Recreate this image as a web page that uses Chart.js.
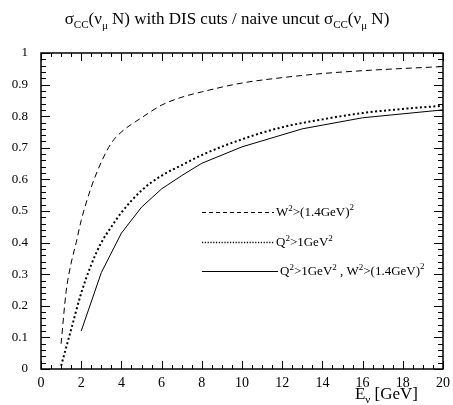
<!DOCTYPE html>
<html>
<head>
<meta charset="utf-8">
<script src="https://cdn.jsdelivr.net/npm/chart.js@4"></script>
<style>
  html, body { margin: 0; padding: 0; background: #fff; }
  #wrap { width: 453px; height: 405px; }
</style>
</head>
<body>
<div id="wrap"><canvas id="chart" width="453" height="405"></canvas></div>
<script>
// values
var wX = [1, 1.25, 1.5, 1.75, 2, 2.5, 3, 3.5, 4, 5, 6, 7, 8, 10, 12, 14, 16, 18, 20];
var wY = [0.08, 0.245, 0.335, 0.40, 0.47, 0.575, 0.655, 0.715, 0.75, 0.795, 0.835, 0.86, 0.877, 0.905, 0.922, 0.935, 0.944, 0.951, 0.957];

var qX = [1, 1.5, 2, 2.5, 3, 3.5, 4, 5, 6, 7, 8, 10, 12, 14, 16, 18, 20];
var qY = [0.01, 0.125, 0.24, 0.33, 0.40, 0.45, 0.495, 0.565, 0.612, 0.645, 0.677, 0.727, 0.765, 0.79, 0.81, 0.823, 0.833];

var bothX = [2, 3, 4, 5, 6, 7, 8, 10, 13, 16, 20];
var bothY = [0.12, 0.305, 0.43, 0.512, 0.57, 0.612, 0.651, 0.703, 0.76, 0.795, 0.82];

var seriesNames = ['W2', 'Q2', 'Q2W2'];
var xTicks = [0, 2, 4, 6, 8, 10, 12, 14, 16, 18, 20];

var FONT = '"Liberation Serif", "DejaVu Serif", serif';

function pts(xs, ys) {
  return xs.map(function(x, i) { return {x: x, y: ys[i]}; });
}

// draw text made of pieces with sub/superscripts
function richWidth(ctx, segs) {
  var w = 0;
  segs.forEach(function(s) {
    ctx.font = s.size + 'px ' + FONT;
    w += ctx.measureText(s.t).width;
  });
  return w;
}
function drawRich(ctx, x, y, segs, align) {
  var w = richWidth(ctx, segs);
  if (align === 'center') x -= w / 2;
  if (align === 'right') x -= w;
  ctx.textBaseline = 'alphabetic';
  ctx.textAlign = 'left';
  segs.forEach(function(s) {
    ctx.font = s.size + 'px ' + FONT;
    ctx.fillText(s.t, x, y + (s.dy || 0));
    x += ctx.measureText(s.t).width;
  });
}

var titleSegs = [
  {t: 'σ', size: 17}, {t: 'CC', size: 11, dy: 4}, {t: '(ν', size: 17}, {t: 'μ', size: 11, dy: 5},
  {t: ' N) with DIS cuts / naive uncut σ', size: 17}, {t: 'CC', size: 11, dy: 4},
  {t: '(ν', size: 17}, {t: 'μ', size: 11, dy: 5}, {t: ' N)', size: 17}
];
var xTitleSegs = [{t: 'E', size: 17}, {t: 'ν', size: 11, dy: 4}, {t: ' [GeV]', size: 17}];

var legendItems = [
  {dash: [4, 3], width: 1, segs: [{t: 'W', size: 13}, {t: '2', size: 9, dy: -5}, {t: '>(1.4GeV)', size: 13}, {t: '2', size: 9, dy: -6}]},
  {dash: [1.2, 1.6], width: 1.4, segs: [{t: 'Q', size: 13}, {t: '2', size: 9, dy: -5}, {t: '>1GeV', size: 13}, {t: '2', size: 9, dy: -5}]},
  {dash: [], width: 1, segs: [{t: 'Q', size: 13}, {t: '2', size: 9, dy: -5}, {t: '>1GeV', size: 13}, {t: '2', size: 9, dy: -5},
    {t: ' , W', size: 13}, {t: '2', size: 9, dy: -5}, {t: '>(1.4GeV)', size: 13}, {t: '2', size: 9, dy: -6}]}
];

var framePlugin = {
  id: 'frame',
  afterDraw: function(chart) {
    var ctx = chart.ctx, a = chart.chartArea;
    var xs = chart.scales.x, ys = chart.scales.y;
    ctx.save();
    ctx.strokeStyle = '#000';
    ctx.fillStyle = '#000';
    ctx.lineWidth = 1.5;
    ctx.strokeRect(a.left, a.top, a.right - a.left, a.bottom - a.top);

    // inward ticks, all four sides
    ctx.lineWidth = 1;
    ctx.beginPath();
    var v, p, major;
    for (v = 0; v <= 20.001; v += 0.5) {
      p = Math.round(xs.getPixelForValue(v)) + 0.5;
      major = Math.abs(v / 2 - Math.round(v / 2)) < 1e-6;
      var lx = major ? 8 : 4;
      ctx.moveTo(p, a.bottom); ctx.lineTo(p, a.bottom - lx);
      ctx.moveTo(p, a.top); ctx.lineTo(p, a.top + lx);
    }
    for (v = 0; v <= 1.0001; v += 0.02) {
      p = Math.round(ys.getPixelForValue(v)) + 0.5;
      major = Math.abs(v * 10 - Math.round(v * 10)) < 1e-6;
      var ly = major ? 9 : 5;
      ctx.moveTo(a.left, p); ctx.lineTo(a.left + ly, p);
      ctx.moveTo(a.right, p); ctx.lineTo(a.right - ly, p);
    }
    ctx.stroke();

    // titles
    drawRich(ctx, 227, 24, titleSegs, 'center');
    drawRich(ctx, 418, 399, xTitleSegs, 'right');

    // legend inside the plot
    var lx0 = 202, lx1 = 274;
    var rows = [212, 242, 271];
    legendItems.forEach(function(it, i) {
      ctx.setLineDash(it.dash);
      ctx.lineWidth = it.width;
      ctx.beginPath();
      ctx.moveTo(lx0, rows[i] + 0.5);
      ctx.lineTo(i === 2 ? lx1 + 4 : lx1, rows[i] + 0.5);
      ctx.stroke();
      ctx.setLineDash([]);
      drawRich(ctx, (i === 2 ? lx1 + 6 : lx1 + 2), rows[i] + 4, it.segs, 'left');
    });
    ctx.restore();
  }
};

new Chart(document.getElementById('chart'), {
  type: 'line',
  data: {
    datasets: [
      {label: seriesNames[0], data: pts(wX, wY), borderColor: '#000', borderWidth: 1,
       borderDash: [6, 4], pointRadius: 0, cubicInterpolationMode: 'monotone'},
      {label: seriesNames[1], data: pts(qX, qY), borderColor: '#000', borderWidth: 2,
       borderDash: [2, 2.5], pointRadius: 0, cubicInterpolationMode: 'monotone'},
      {label: seriesNames[2], data: pts(bothX, bothY), borderColor: '#000', borderWidth: 1,
       pointRadius: 0, tension: 0}
    ]
  },
  options: {
    responsive: false,
    animation: false,
    layout: {padding: {top: 53, right: 10, left: 0, bottom: 0}},
    plugins: {legend: {display: false}, tooltip: {enabled: false}, title: {display: false}},
    scales: {
      x: {
        type: 'linear', min: 0, max: 20,
        afterBuildTicks: function(s) { s.ticks = xTicks.map(function(v) { return {value: v}; }); },
        grid: {display: false, drawTicks: false},
        border: {display: false},
        ticks: {color: '#000', font: {family: FONT, size: 14}, padding: 6, maxRotation: 0, autoSkip: false},
        afterFit: function(s) { s.height = 36; s.paddingLeft = 0; s.paddingRight = 0; }
      },
      y: {
        type: 'linear', min: 0, max: 1,
        grid: {display: false, drawTicks: false},
        border: {display: false},
        ticks: {stepSize: 0.1, color: '#000', font: {family: FONT, size: 13}, padding: 13,
          callback: function(v) { return String(Number(v.toFixed(2))); }},
        afterFit: function(s) { s.width = 41; s.paddingTop = 0; s.paddingBottom = 0; }
      }
    }
  },
  plugins: [framePlugin]
});
</script>
</body>
</html>
